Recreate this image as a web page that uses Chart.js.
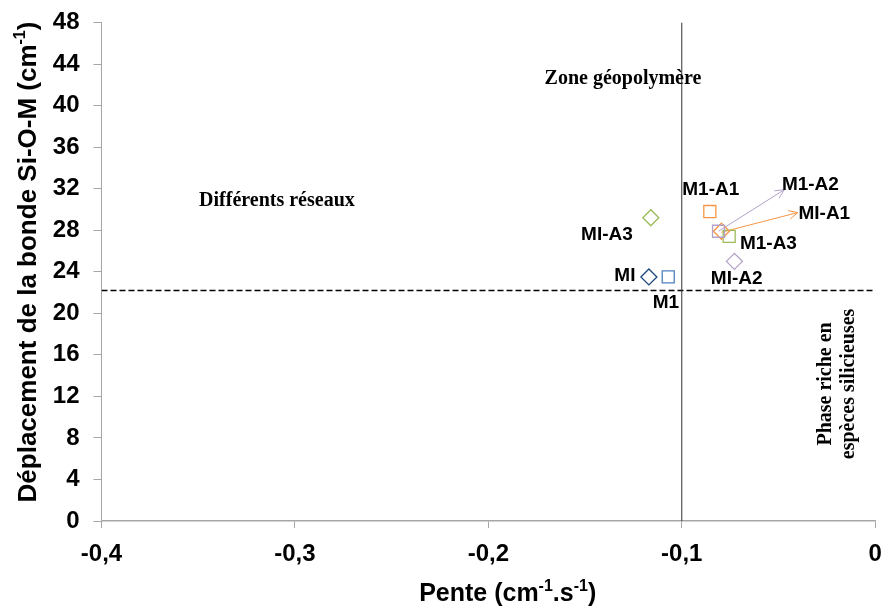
<!DOCTYPE html>
<html><head><meta charset="utf-8">
<script src="https://cdn.jsdelivr.net/npm/chart.js@4"></script>
<style>html,body{margin:0;padding:0;background:#fff}#wrap{width:885px;height:607px}</style>
</head><body><div id="wrap"><canvas id="c" width="885" height="607"></canvas></div>
<script>
// Data
const names   = ["MI", "M1", "MI-A3", "M1-A1", "M1-A2", "MI-A1", "M1-A3", "MI-A2"];
const slopes  = [-0.117, -0.107, -0.116, -0.0855, -0.081, -0.0795, -0.0755, -0.0728];
const shifts  = [23.5, 23.5, 29.2, 29.8, 27.9, 27.9, 27.4, 25.0];
const shapes  = ["rectRot", "rect", "rectRot", "rect", "rect", "rectRot", "rect", "rectRot"];
const colors  = ["#1F497D", "#4F81BD", "#9BBB59", "#F79646", "#B3A2C7", "#F79646", "#9BBB59", "#B3A2C7"];
const xTicks  = [-0.4, -0.3, -0.2, -0.1, 0];
const yTicks  = [0, 4, 8, 12, 16, 20, 24, 28, 32, 36, 40, 44, 48];
const thresholdSlope = -0.1;
const thresholdShift = 22.2;
// Label anchors (data coords)
const labelText = ["MI", "M1", "MI-A3", "M1-A1", "M1-A2", "MI-A1", "M1-A3", "MI-A2"];
const labelX    = [-0.1294, -0.1082, -0.1387, -0.085, -0.0335, -0.0263, -0.0552, -0.0716];
const labelY    = [23.6, 21.0, 27.6, 31.9, 32.4, 29.6, 26.7, 23.3];
// arrows: from point to label
const arrowFromX = [-0.081, -0.0795];
const arrowFromY = [27.9, 27.8];
const arrowToX   = [-0.047, -0.040];
const arrowToY   = [31.9, 29.7];
const arrowColor = ["#B3A2C7", "#F79646"];

const datasets = names.map((n, i) => ({
  label: n,
  data: [{x: slopes[i], y: shifts[i]}],
  pointStyle: shapes[i],
  borderColor: colors[i],
  backgroundColor: 'rgba(255,255,255,0)',
  pointRadius: shapes[i] === 'rect' ? 8.5 : 8,
  pointBorderWidth: 1.3,
  showLine: false
}));
datasets.push({
  label: 'vline', data: [{x: thresholdSlope, y: 0}, {x: thresholdSlope, y: 48}],
  showLine: true, borderColor: '#333', borderWidth: 1, pointRadius: 0
});
datasets.push({
  label: 'hline', data: [{x: -0.4, y: thresholdShift}, {x: 0, y: thresholdShift}],
  showLine: true, borderColor: '#000', borderWidth: 1.6, borderDash: [6, 3], pointRadius: 0
});
arrowFromX.forEach((_, i) => {
  datasets.push({
    label: 'arrow' + i, data: [{x: arrowFromX[i], y: arrowFromY[i]}, {x: arrowToX[i], y: arrowToY[i]}],
    showLine: true, borderColor: arrowColor[i], borderWidth: 1, pointRadius: 0
  });
});

const SANS = '"Liberation Sans", Arial, sans-serif';
const SERIF = '"Liberation Serif", "Times New Roman", serif';

function drawRich(ctx, segs, size) {
  const big = 'bold ' + size + 'px ' + SANS, small = 'bold ' + Math.round(size * 0.62) + 'px ' + SANS;
  let w = 0;
  segs.forEach(s => { ctx.font = s.sup ? small : big; w += ctx.measureText(s.t).width; });
  let x = -w / 2;
  ctx.textAlign = 'left'; ctx.textBaseline = 'alphabetic';
  const base = size * 0.36;
  segs.forEach(s => {
    ctx.font = s.sup ? small : big;
    ctx.fillText(s.t, x, s.sup ? base - size * 0.42 : base);
    x += ctx.measureText(s.t).width;
  });
}

const annot = {
  id: 'annot',
  afterDatasetsDraw(chart) {
    const ctx = chart.ctx, xs = chart.scales.x, ys = chart.scales.y;
    ctx.save();
    arrowFromX.forEach((_, i) => {
      const x1 = xs.getPixelForValue(arrowFromX[i]), y1 = ys.getPixelForValue(arrowFromY[i]);
      const x2 = xs.getPixelForValue(arrowToX[i]), y2 = ys.getPixelForValue(arrowToY[i]);
      const a = Math.atan2(y2 - y1, x2 - x1), L = 10, w = 0.45;
      ctx.strokeStyle = arrowColor[i]; ctx.lineWidth = 1;
      ctx.beginPath();
      ctx.moveTo(x2 - L * Math.cos(a - w), y2 - L * Math.sin(a - w));
      ctx.lineTo(x2, y2);
      ctx.lineTo(x2 - L * Math.cos(a + w), y2 - L * Math.sin(a + w));
      ctx.stroke();
    });
    ctx.fillStyle = '#000';
    ctx.textAlign = 'center'; ctx.textBaseline = 'middle';
    ctx.font = 'bold 19px ' + SANS;
    labelText.forEach((t, i) => {
      ctx.fillText(t, xs.getPixelForValue(labelX[i]), ys.getPixelForValue(labelY[i]));
    });
    ctx.font = 'bold 20px ' + SERIF;
    ctx.fillText('Zone géopolymère', xs.getPixelForValue(-0.1304), ys.getPixelForValue(42.6));
    ctx.fillText('Différents réseaux', xs.getPixelForValue(-0.3093), ys.getPixelForValue(30.8));
    const rot = ['Phase riche en', 'espèces silicieuses'];
    const rx = [-0.0253, -0.0135];
    rot.forEach((t, i) => {
      ctx.save();
      ctx.translate(xs.getPixelForValue(rx[i]), ys.getPixelForValue(13.2));
      ctx.rotate(-Math.PI / 2);
      ctx.fillText(t, 0, 0);
      ctx.restore();
    });
    ctx.save();
    ctx.translate(xs.getPixelForValue(-0.19), 592);
    drawRich(ctx, [{t: 'Pente (cm'}, {t: '-1', sup: true}, {t: '.s'}, {t: '-1', sup: true}, {t: ')'}], 25);
    ctx.restore();
    ctx.save();
    ctx.translate(27, 262);
    ctx.rotate(-Math.PI / 2);
    drawRich(ctx, [{t: 'Déplacement de la bonde Si-O-M (cm'}, {t: '-1', sup: true}, {t: ')'}], 26);
    ctx.restore();
    ctx.restore();
  }
};

const tickFont = {family: SANS, size: 24, weight: 'bold'};
new Chart(document.getElementById('c'), {
  type: 'scatter',
  data: {datasets},
  plugins: [annot],
  options: {
    responsive: false, animation: false,
    layout: {padding: {top: 22.5, right: 6, left: 0, bottom: 0}},
    plugins: {legend: {display: false}, tooltip: {enabled: false}},
    scales: {
      x: {
        type: 'linear', min: -0.4, max: 0,
        afterBuildTicks: ax => { ax.ticks = xTicks.map(v => ({value: v})); },
        ticks: {color: '#000', font: tickFont, padding: 12, maxRotation: 0,
          callback: v => (Math.round(v * 10) / 10).toString().replace('.', ',')},
        grid: {drawOnChartArea: false, color: '#A6A6A6', tickLength: 7, lineWidth: 1},
        border: {color: '#A6A6A6', width: 1.5},
        afterFit: ax => { ax.height = 86; ax.paddingRight = 0; ax.paddingLeft = 0; }
      },
      y: {
        type: 'linear', min: 0, max: 48,
        afterBuildTicks: ax => { ax.ticks = yTicks.map(v => ({value: v})); },
        ticks: {color: '#000', font: tickFont, padding: 14},
        grid: {drawOnChartArea: false, color: '#A6A6A6', tickLength: 8, lineWidth: 1},
        border: {color: '#A6A6A6', width: 1},
        afterFit: ax => { ax.width = 101.5; ax.paddingTop = 0; ax.paddingBottom = 0; }
      }
    }
  }
});
</script></body></html>
